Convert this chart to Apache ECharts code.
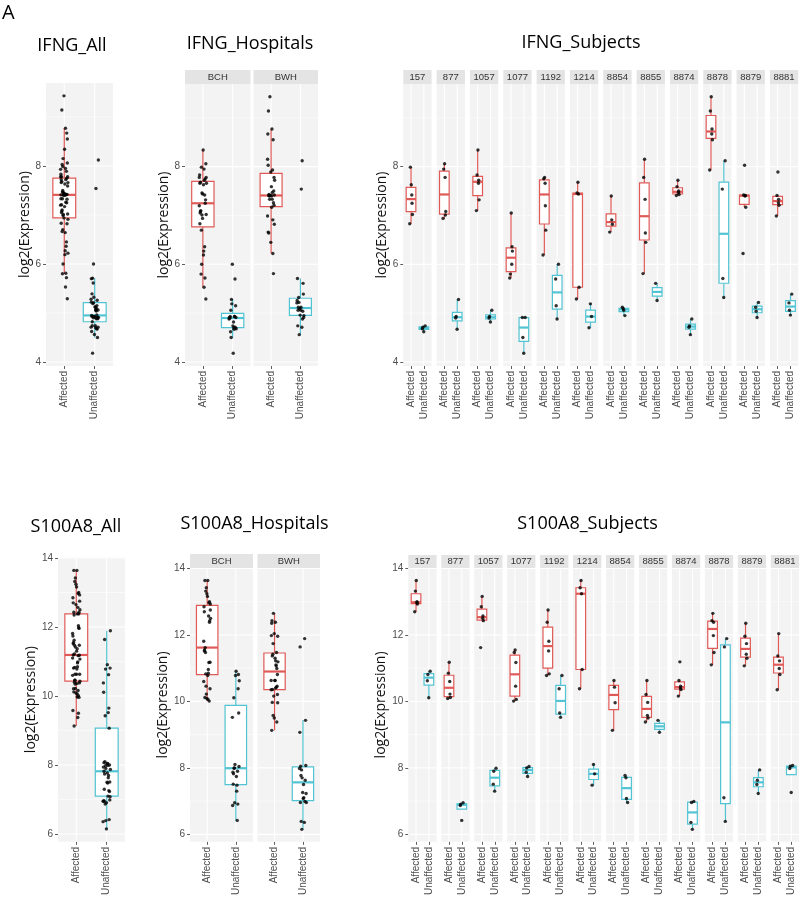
<!DOCTYPE html>
<html>
<head>
<meta charset="utf-8">
<script src="https://cdn.jsdelivr.net/npm/echarts@6/dist/echarts.min.js"></script>
<style>
html,body{margin:0;padding:0;background:#fff;}
#chart{width:800px;height:898px;}
</style>
</head>
<body>
<div id="chart"></div>
<script>
// ---------------- DATA ----------------
const SUBJECTS = ['157','877','1057','1077','1192','1214','8854','8855','8874','8878','8879','8881'];
const SUBJECT_HOSPITAL = ['BCH','BCH','BCH','BCH','BCH','BCH','BWH','BWH','BWH','BWH','BWH','BWH'];
const HOSPITALS = ['BCH','BWH'];
const GROUPS = ['Affected','Unaffected'];
const IFNG_TICKS = [4, 6, 8];
const S100A8_TICKS = [6, 8, 10, 12, 14];

// log2(Expression) per subject (same order as SUBJECTS)
const IFNG_AFFECTED = [
  [7.42, 6.83, 7.63, 7.02, 7.99, 7.25],
  [7.78, 6.94, 8.06, 7.08, 7.95, 7.01],
  [7.66, 7.10, 8.34, 7.32, 7.83, 7.72],
  [6.00, 5.72, 7.05, 6.27, 5.80, 6.36],
  [7.66, 6.19, 7.78, 6.70, 7.75, 7.20],
  [7.44, 5.29, 7.68, 5.53, 7.46],
  [6.91, 6.66, 7.40, 6.82],
  [7.33, 5.81, 8.15, 6.45, 7.78, 6.64],
  [7.47, 7.41, 7.72, 7.43, 7.59, 7.50],
  [8.67, 7.93, 9.43, 8.55, 9.14, 8.77],
  [7.40, 6.22, 8.03, 7.17, 7.42, 7.41],
  [7.26, 6.99, 7.89, 7.21, 7.41, 7.33]
];
const IFNG_UNAFFECTED = [
  [4.68, 4.62, 4.74, 4.71],
  [4.90, 4.67, 5.28, 4.93],
  [4.90, 4.82, 5.06, 4.93],
  [4.91, 4.18, 4.91, 4.50],
  [5.70, 4.88, 6.00, 5.15],
  [4.93, 4.70, 5.19],
  [5.09, 4.95, 5.12, 5.06],
  [5.61, 5.26],
  [4.71, 4.56, 4.88, 4.74],
  [7.54, 5.32, 8.12, 5.71],
  [5.12, 4.91, 5.22, 5.04],
  [5.21, 4.96, 5.39, 5.06]
];
const S100A8_AFFECTED = [
  [12.97, 12.70, 13.64, 12.93, 13.32, 13.00],
  [10.60, 10.09, 11.18, 10.12, 10.85, 10.22],
  [12.50, 11.62, 13.16, 12.43, 12.85, 12.57],
  [10.46, 10.01, 11.55, 10.06, 11.47, 11.17],
  [11.52, 10.78, 12.75, 10.83, 12.38, 11.81],
  [13.24, 10.38, 13.64, 10.96, 13.42],
  [10.43, 9.13, 10.63, 9.96],
  [9.58, 9.38, 10.63, 9.50, 10.21, 9.97],
  [10.40, 10.16, 11.19, 10.36, 10.63, 10.46],
  [11.98, 11.10, 12.65, 11.47, 12.43, 12.38],
  [11.42, 11.07, 12.35, 11.30, 11.96, 11.74],
  [10.99, 10.35, 12.04, 10.81, 11.37, 11.22]
];
const S100A8_UNAFFECTED = [
  [10.62, 10.11, 10.91, 10.81],
  [6.87, 6.42, 6.95, 6.91],
  [7.51, 7.30, 7.99, 7.90],
  [7.87, 7.74, 8.04, 8.00],
  [10.38, 9.52, 10.78, 9.65],
  [7.82, 7.48, 8.10],
  [7.70, 6.96, 7.77, 7.08],
  [9.43, 9.07],
  [6.36, 6.15, 6.99, 6.96],
  [7.10, 6.39, 11.89, 11.64],
  [7.50, 7.23, 7.94, 7.63],
  [7.98, 7.26, 8.07, 8.05]
];

// ---------------- STYLE / LAYOUT ----------------
const RED = '#DF5A57';
const CYAN = '#52C3D2';
const PANEL_BG = '#F3F3F3';
const STRIP_BG = '#E4E4E4';
const FONT = '"Liberation Sans", Arial, sans-serif';
const TITLE_FONT = '"Open Sans", sans-serif';
const JITTER = [0.06,-0.10,0.02,0.11,-0.05,0.08,-0.12,-0.01,0.10,-0.08,0.04,-0.03,0.12,-0.07,0.01,0.09,-0.11,0.05,-0.04,0.07,-0.09,0.03,-0.06];

const ROWS = [
  { gene:'IFNG', aff:IFNG_AFFECTED, unaff:IFNG_UNAFFECTED, ticks:IFNG_TICKS,
    all:{left:46, top:83, width:67, height:283, nameGap:10},
    hosp:{lefts:[185, 253.5], widths:[65.5, 64.5], top:84, height:282, stripTop:70, nameGap:11},
    subj:{left0:403.3, pitch:33.33, width:28.3, top:84, height:282, stripTop:70, nameGap:11},
    titles:[{t:'IFNG_All', x:72, y:45.5},{t:'IFNG_Hospitals', x:250, y:44},{t:'IFNG_Subjects', x:581, y:43}] },
  { gene:'S100A8', aff:S100A8_AFFECTED, unaff:S100A8_UNAFFECTED, ticks:S100A8_TICKS,
    all:{left:58, top:557.5, width:67, height:286, nameGap:16},
    hosp:{lefts:[190, 257.5], widths:[63, 62.5], top:568, height:277.5, stripTop:554, nameGap:16},
    subj:{left0:408.3, pitch:32.95, width:28.3, top:568, height:278, stripTop:555, nameGap:16},
    titles:[{t:'S100A8_All', x:76, y:527},{t:'S100A8_Hospitals', x:254.5, y:523.5},{t:'S100A8_Subjects', x:587.5, y:523.5}] }
];

// ---------------- HELPERS ----------------
function q7(s, p){ const h=(s.length-1)*p, lo=Math.floor(h), hi=Math.ceil(h); return s[lo]+(h-lo)*(s[hi]-s[lo]); }
function boxStats(vals){
  const s = vals.slice().sort((a,b)=>a-b);
  const q1=q7(s,0.25), med=q7(s,0.5), q3=q7(s,0.75), iqr=q3-q1;
  const lf=q1-1.5*iqr, hf=q3+1.5*iqr;
  const inside=s.filter(v=>v>=lf-1e-9 && v<=hf+1e-9);
  return { lo:inside[0], q1, med, q3, hi:inside[inside.length-1] };
}
const flat = arrs => [].concat(...arrs);

const option = { animation:false, backgroundColor:'#ffffff', grid:[], xAxis:[], yAxis:[], series:[], graphic:[] };

option.graphic.push({type:'text', left:2, top:3, style:{text:'A', fontSize:20, fontFamily:TITLE_FONT, fill:'#000'}});

function addPanel(P){
  const gi = option.grid.length;
  option.grid.push({left:P.left, top:P.top, width:P.width, height:P.height, show:true, backgroundColor:PANEL_BG, borderWidth:0});
  option.xAxis.push({type:'value', gridIndex:gi, min:0.4, max:2.6,
    axisLine:{show:false}, splitLine:{show:false},
    axisTick:{show:true, customValues:[1,2], length:3, lineStyle:{color:'#333', width:0.8}},
    axisLabel:{show:true, customValues:[1,2], rotate:90, formatter:v=>GROUPS[Math.round(v)-1],
      fontSize:10, color:'#4d4d4d', margin:5, fontFamily:FONT}});
  option.yAxis.push({type:'value', gridIndex:gi, min:P.range[0], max:P.range[1],
    axisLine:{show:false}, splitLine:{show:false},
    axisTick:{show:P.showY, customValues:P.ticks, length:3, lineStyle:{color:'#333', width:0.8}},
    axisLabel:{show:P.showY, customValues:P.ticks, fontSize:10, color:'#4d4d4d', margin:5, fontFamily:FONT},
    name:P.showY ? 'log2(Expression)' : '', nameLocation:'middle', nameRotate:90, nameGap:P.nameGap,
    nameTextStyle:{fontSize:14, color:'#111', fontFamily:TITLE_FONT}});
  // grid lines
  const lines = [];
  P.ticks.forEach(t=>{ if(t>=P.range[0]&&t<=P.range[1]) lines.push([0,t,1.1]); });
  const minors = [];
  P.ticks.forEach(t=>{ [t-1,t+1].forEach(m=>{ if(m>P.range[0]&&m<P.range[1]&&P.ticks.indexOf(m)<0&&minors.indexOf(m)<0) minors.push(m); }); });
  minors.forEach(m=>lines.push([0,m,0.55]));
  lines.push([1,1,1.1]); lines.push([1,2,1.1]);
  option.series.push({type:'custom', xAxisIndex:gi, yAxisIndex:gi, z:1, silent:true, data:lines,
    encode:{x:-1, y:-1},
    renderItem:(params, api)=>{
      const cs=params.coordSys, kind=api.value(0), v=api.value(1), w=api.value(2);
      if(kind===0){ const y=api.coord([1,v])[1]; return {type:'line', shape:{x1:cs.x,y1:y,x2:cs.x+cs.width,y2:y}, style:{stroke:'#fff', lineWidth:w}}; }
      const x=api.coord([v,P.range[0]])[0];
      return {type:'line', shape:{x1:x,y1:cs.y,x2:x,y2:cs.y+cs.height}, style:{stroke:'#fff', lineWidth:w}};
    }});
  // boxes
  const stats=[boxStats(P.aff), boxStats(P.unaff)];
  const boxData = stats.map((s,i)=>[i+1, s.lo, s.q1, s.med, s.q3, s.hi]);
  option.series.push({type:'custom', xAxisIndex:gi, yAxisIndex:gi, z:2, silent:true, data:boxData,
    encode:{x:0, y:[1,2,3,4,5]},
    renderItem:(params, api)=>{
      const x=api.value(0), col = x===1 ? RED : CYAN;
      const pLo=api.coord([x,api.value(1)]), pQ1=api.coord([x,api.value(2)]), pMed=api.coord([x,api.value(3)]),
            pQ3=api.coord([x,api.value(4)]), pHi=api.coord([x,api.value(5)]);
      const xl=api.coord([x-0.375,api.value(2)])[0], xr=api.coord([x+0.375,api.value(2)])[0];
      return {type:'group', children:[
        {type:'line', shape:{x1:pLo[0],y1:pLo[1],x2:pQ1[0],y2:pQ1[1]}, style:{stroke:col, lineWidth:1.2}},
        {type:'line', shape:{x1:pQ3[0],y1:pQ3[1],x2:pHi[0],y2:pHi[1]}, style:{stroke:col, lineWidth:1.2}},
        {type:'rect', shape:{x:xl,y:pQ3[1],width:xr-xl,height:pQ1[1]-pQ3[1]}, style:{fill:'#fff', stroke:col, lineWidth:1.2}},
        {type:'line', shape:{x1:xl,y1:pMed[1],x2:xr,y2:pMed[1]}, style:{stroke:col, lineWidth:2.2}}
      ]};
    }});
  // jittered points
  const pts=[]; let k=0;
  [P.aff, P.unaff].forEach((arr,i)=>arr.forEach(v=>{ pts.push([i+1+JITTER[k%JITTER.length], v]); k++; }));
  option.series.push({type:'scatter', xAxisIndex:gi, yAxisIndex:gi, z:4, silent:true, data:pts,
    symbolSize:3.4, itemStyle:{color:'#000'}});
  // strip
  if(P.strip!=null){
    option.graphic.push({type:'rect', shape:{x:P.left, y:P.stripTop, width:P.width, height:P.top-P.stripTop}, style:{fill:STRIP_BG}, silent:true});
    option.graphic.push({type:'text', x:P.left+P.width/2, y:(P.stripTop+P.top)/2, silent:true,
      style:{text:P.strip, fill:'#333', fontSize:9.5, fontFamily:FONT, align:'center', verticalAlign:'middle'}});
  }
}

ROWS.forEach(R=>{
  const allAff=flat(R.aff), allUn=flat(R.unaff), allVals=allAff.concat(allUn);
  const mn=Math.min(...allVals), mx=Math.max(...allVals), sp=mx-mn;
  const range=[mn-0.05*sp, mx+0.05*sp];
  // All
  addPanel({left:R.all.left, top:R.all.top, width:R.all.width, height:R.all.height, aff:allAff, unaff:allUn,
    range, ticks:R.ticks, showY:true, nameGap:R.all.nameGap, strip:null});
  // Hospitals
  HOSPITALS.forEach((h,hi)=>{
    const idx=SUBJECTS.map((s,i)=>i).filter(i=>SUBJECT_HOSPITAL[i]===h);
    addPanel({left:R.hosp.lefts[hi], top:R.hosp.top, width:R.hosp.widths[hi], height:R.hosp.height,
      aff:flat(idx.map(i=>R.aff[i])), unaff:flat(idx.map(i=>R.unaff[i])),
      range, ticks:R.ticks, showY:hi===0, nameGap:R.hosp.nameGap, strip:h, stripTop:R.hosp.stripTop});
  });
  // Subjects
  SUBJECTS.forEach((s,i)=>{
    addPanel({left:R.subj.left0+i*R.subj.pitch, top:R.subj.top, width:R.subj.width, height:R.subj.height,
      aff:R.aff[i], unaff:R.unaff[i], range, ticks:R.ticks, showY:i===0, nameGap:R.subj.nameGap,
      strip:s, stripTop:R.subj.stripTop});
  });
  R.titles.forEach(T=>{
    option.graphic.push({type:'text', x:T.x, y:T.y, silent:true,
      style:{text:T.t, fill:'#000', fontSize:18, fontFamily:TITLE_FONT, align:'center', verticalAlign:'middle'}});
  });
});

const chart = echarts.init(document.getElementById('chart'), null, {renderer:'canvas'});
chart.setOption(option);
</script>
</body>
</html>
